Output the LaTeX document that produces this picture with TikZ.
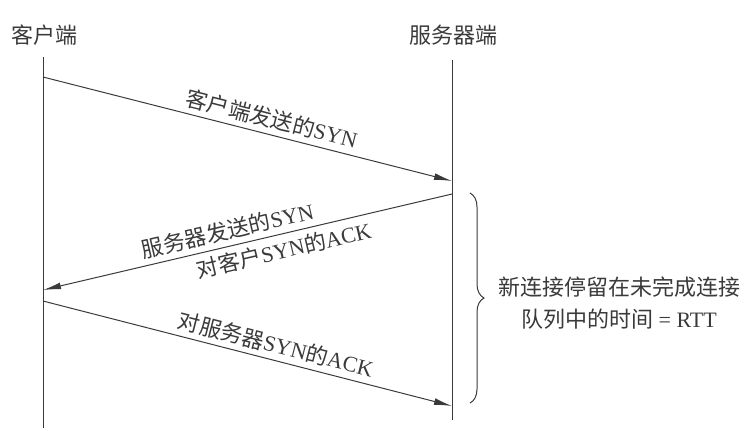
\documentclass[tikz,border=0pt]{standalone}
\usepackage{fontspec}
\setmainfont{Liberation Serif}
\newfontfamily\zh{Noto Sans CJK SC}
\usetikzlibrary{arrows.meta,decorations.pathreplacing}
\definecolor{ink}{HTML}{3A3A3A}

\begin{document}
\begin{tikzpicture}[x=0.5pt,y=-0.5pt,font=\fontsize{11}{16}\selectfont,ink,
 msg/.style={-{Latex[length=9pt,width=3.4pt]},line width=.5pt},
 lbl/.style={sloped,inner sep=2.6pt}]
 \useasboundingbox (0,0) rectangle (748,430);
 % the two ends
 \node (client) at (44,35) {\zh 客户端};
 \node (server) at (453,35) {\zh 服务器端};
 \coordinate (ctop) at (43,57); \coordinate (cbot) at (43,428);
 \coordinate (stop) at (452,60); \coordinate (sbot) at (452,420);
 \draw[line width=.5pt] (ctop)--(cbot);
 \draw[line width=.5pt] (stop)--(sbot);
 % handshake
 \coordinate (c1) at (43,77); \coordinate (s1) at (452,181);
 \coordinate (s2) at (452,194); \coordinate (c2) at (43,290);
 \coordinate (c3) at (43,301); \coordinate (s3) at (452,406);
 \draw[msg] (c1) -- node[lbl,above,pos=.55]{{\zh 客户端发送的}SYN} (s1);
 \draw[msg] (s2) -- node[lbl,above,pos=.54]{{\zh 服务器发送的}SYN}
  node[lbl,below,pos=.42]{{\zh 对客户}SYN{\zh 的}ACK} (c2);
 \draw[msg] (c3) -- node[lbl,above,pos=.56]{{\zh 对服务器}SYN{\zh 的}ACK} (s3);
 % time in the queue
 \coordinate (btop) at (470,193); \coordinate (bbot) at (470,403);
 \draw[line width=.5pt,decorate,decoration={brace,amplitude=7pt}] (btop)--(bbot);
 \node[align=center] (queue) at (619,303) {{\zh 新连接停留在未完成连接}\\{\zh 队列中的时间} = RTT};
\end{tikzpicture}
\end{document}
